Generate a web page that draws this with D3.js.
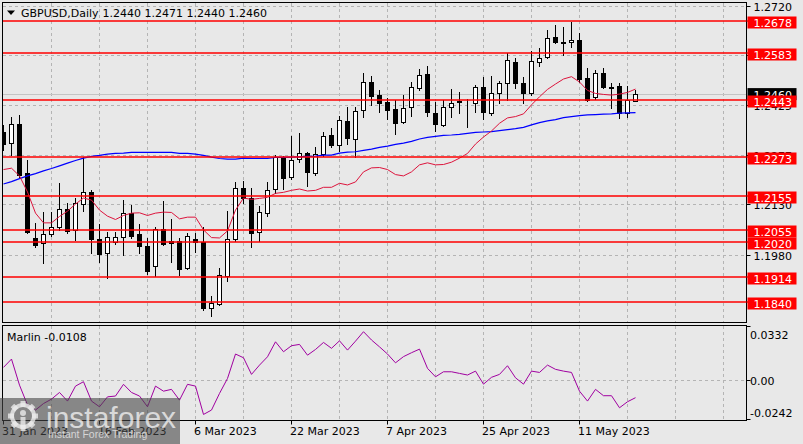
<!DOCTYPE html>
<html><head><meta charset="utf-8">
<script src="https://cdn.jsdelivr.net/npm/d3@7"></script>
<style>html,body{margin:0;padding:0;background:#e8e8e8;} svg{display:block;}</style>
</head><body><div id="chart"></div>
<script>
// ---------- DATA ----------
const symbolTitle = "GBPUSD,Daily";
const lastOHLC = "1.2440 1.2471 1.2440 1.2460";
const firstDate = "2023-01-31"; // first trading day shown; daily bars, weekends skipped
const openP  = [1.2347,1.2314,1.2371,1.2225,1.2031,1.2015,1.2042,1.2065,1.2116,1.2055,
                1.2131,1.2167,1.2027,1.1985,1.2020,1.2033,1.2106,1.2042,1.2007,1.1948,
                1.2057,1.2023,1.2023,1.1941,1.2027,1.2018,1.1821,1.1834,1.1918,1.2027,
                1.2179,1.2151,1.2048,1.2105,1.2176,1.2269,1.2214,1.2265,1.2283,1.2226,
                1.2280,1.2338,1.2308,1.2380,1.2325,1.2412,1.2496,1.2456,1.2436,1.2415,
                1.2378,1.2421,1.2477,1.2520,1.2403,1.2368,1.2421,1.2440,1.2437,1.2433,
                1.2480,1.2403,1.2462,1.2492,1.2556,1.2493,1.2462,1.2557,1.2570,1.2629,
                1.2614,1.2614,1.2621,1.2507,1.2452,1.2522,1.2480,1.2484,1.2403,1.2440];
const highP  = [1.2368,1.2392,1.2398,1.2263,1.2076,1.2109,1.2109,1.2194,1.2136,1.2149,
                1.2272,1.2174,1.2073,1.2050,1.2050,1.2144,1.2129,1.2073,1.2032,1.2063,
                1.2141,1.2088,1.2032,1.2045,1.2045,1.2064,1.1858,1.1940,1.2111,1.2199,
                1.2201,1.2181,1.2126,1.2197,1.2278,1.2274,1.2335,1.2343,1.2288,1.2303,
                1.2348,1.2360,1.2395,1.2422,1.2422,1.2524,1.2515,1.2471,1.2449,1.2442,
                1.2457,1.2497,1.2535,1.2544,1.2437,1.2442,1.2474,1.2467,1.2445,1.2487,
                1.2512,1.2514,1.2500,1.2582,1.2567,1.2510,1.2589,1.2597,1.2651,1.2666,
                1.2661,1.2676,1.2641,1.2537,1.2532,1.2537,1.2492,1.2492,1.2484,1.2471];
const lowP   = [1.2293,1.2278,1.2213,1.2046,1.2004,1.1957,1.2037,1.2055,1.2045,1.2025,
                1.2111,1.1987,1.1960,1.1912,1.2012,1.1980,1.2032,1.1987,1.1923,1.1917,
                1.2010,1.1960,1.1920,1.1937,1.1990,1.1816,1.1797,1.1831,1.1904,1.2022,
                1.2135,1.2005,1.2023,1.2097,1.2164,1.2176,1.2206,1.2258,1.2187,1.2219,
                1.2275,1.2301,1.2291,1.2311,1.2273,1.2393,1.2428,1.2407,1.2385,1.2341,
                1.2375,1.2395,1.2472,1.2395,1.2351,1.2365,1.2391,1.2403,1.2363,1.2407,
                1.2385,1.2398,1.2433,1.2442,1.2477,1.2433,1.2457,1.2545,1.2567,1.2612,
                1.2577,1.2600,1.2497,1.2440,1.2445,1.2477,1.2418,1.2388,1.2391,1.2440];
const closeP = [1.2311,1.2371,1.2219,1.2050,1.2010,1.2043,1.2065,1.2116,1.2052,1.2134,
                1.2167,1.2027,1.1982,1.2035,1.2035,1.2105,1.2037,1.2008,1.1933,1.2057,
                1.2013,1.2015,1.1938,1.2038,1.2020,1.1821,1.1838,1.1920,1.2027,1.2179,
                1.2151,1.2047,1.2108,1.2173,1.2271,1.2210,1.2263,1.2283,1.2229,1.2280,
                1.2336,1.2308,1.2383,1.2328,1.2411,1.2495,1.2455,1.2433,1.2412,1.2375,
                1.2418,1.2480,1.2516,1.2407,1.2370,1.2421,1.2433,1.2436,1.2436,1.2480,
                1.2406,1.2464,1.2492,1.2562,1.2492,1.2462,1.2559,1.2567,1.2626,1.2614,
                1.2613,1.2621,1.2505,1.2443,1.2522,1.2480,1.2479,1.2403,1.2442,1.2460];
const maSlow = [1.2192,1.2199,1.2208,1.2216,1.2223,1.2231,1.2238,1.2246,1.2254,1.2262,
                1.2269,1.2274,1.2277,1.2281,1.2283,1.2284,1.2286,1.2286,1.2286,1.2286,
                1.2286,1.2286,1.2283,1.2283,1.2281,1.2277,1.2272,1.2268,1.2266,1.2266,
                1.2269,1.2268,1.2268,1.2268,1.2271,1.2271,1.2272,1.2273,1.2274,1.2275,
                1.2278,1.2278,1.2284,1.2287,1.2288,1.2292,1.2296,1.2301,1.2305,1.2310,
                1.2314,1.2319,1.2326,1.2331,1.2334,1.2337,1.2338,1.2340,1.2343,1.2346,
                1.2347,1.2348,1.2351,1.2354,1.2357,1.2361,1.2368,1.2375,1.2380,1.2384,
                1.2390,1.2393,1.2396,1.2398,1.2399,1.2400,1.2401,1.2403,1.2404,1.2405];
const maFast = [1.2235,1.2239,1.2216,1.2168,1.2105,1.2076,1.2076,1.2095,1.2111,1.2132,
                1.2150,1.2144,1.2114,1.2096,1.2086,1.2098,1.2105,1.2106,1.2098,1.2105,
                1.2108,1.2107,1.2088,1.2093,1.2093,1.2055,1.2032,1.2031,1.2052,1.2114,
                1.2150,1.2146,1.2149,1.2152,1.2164,1.2167,1.2173,1.2177,1.2171,1.2173,
                1.2182,1.2182,1.2194,1.2189,1.2198,1.2228,1.2240,1.2241,1.2235,1.2220,
                1.2216,1.2228,1.2249,1.2255,1.2249,1.2250,1.2257,1.2269,1.2283,1.2311,
                1.2332,1.2350,1.2373,1.2389,1.2393,1.2401,1.2428,1.2452,1.2474,1.2490,
                1.2505,1.2512,1.2496,1.2471,1.2462,1.2459,1.2457,1.2460,1.2465,1.2475];
const marlin = [0.0078,0.0129,-0.0031,-0.0153,-0.0184,-0.0144,-0.0117,-0.0076,-0.0129,-0.0037,
                -0.0010,-0.0129,-0.0164,-0.0103,-0.0098,-0.0026,-0.0076,-0.0098,-0.0164,-0.0037,
                -0.0068,-0.0057,-0.0123,-0.0026,-0.0037,-0.0211,-0.0184,-0.0082,0.0010,0.0160,
                0.0137,0.0035,0.0092,0.0143,0.0235,0.0174,0.0211,0.0219,0.0153,0.0188,
                0.0231,0.0195,0.0241,0.0184,0.0239,0.0297,0.0246,0.0204,0.0160,0.0106,
                0.0144,0.0168,0.0190,0.0072,0.0020,0.0051,0.0051,0.0041,0.0031,0.0055,
                -0.0025,0.0017,0.0035,0.0088,0.0014,-0.0025,0.0055,0.0047,0.0092,0.0066,
                0.0055,0.0047,-0.0068,-0.0129,-0.0057,-0.0096,-0.0096,-0.0170,-0.0133,-0.0108];
const levels = [1.2678,1.2583,1.2443,1.2273,1.2155,1.2055,1.2020,1.1914,1.1840];
const priceTicks = [1.2720,1.2574,1.2425,1.2277,1.2130,1.1980];
const marlinTicks = [0.0332,0.00,-0.0242];
const marlinTickText = ["0.0332","0.00","-0.0242"];
const lastPrice = 1.2460;
const marlinLabel = "Marlin -0.0108";

// ---------- CHART ----------
const W = 803, H = 444;
const font = "'DejaVu Sans', Tahoma, sans-serif";
const svg = d3.select("#chart").append("svg").attr("width", W).attr("height", H)
  .style("font-family", font);
svg.append("rect").attr("width", W).attr("height", H).attr("fill", "#e8e8e8");

// trading dates (category axis)
const parse = d3.timeParse("%Y-%m-%d");
const dates = [];
for (let d = parse(firstDate); dates.length < closeP.length; d = d3.timeDay.offset(d, 1)) {
  const wd = d.getDay(); if (wd !== 0 && wd !== 6) dates.push(d);
}
const fmt = d3.timeFormat("%-d %b %Y");

const L = 2.5, R = 746.5, T = 2.5, B = 322.5, ST = 325.5, SB = 420.5;
const x = d3.scaleLinear().domain([0, 1]).range([3.5, 11.5]);
const y = d3.scaleLinear().domain([1.17803, 1.27317]).range([322, 3]);
const ym = d3.scaleLinear().domain([-0.0242, 0.0332]).range([419.5, 326]);
const crisp = v => Math.floor(v) + 0.5;

const defs = svg.append("defs");
defs.append("clipPath").attr("id", "cm").append("rect").attr("x", 3).attr("y", 3).attr("width", R - 3.5).attr("height", B - 3);
defs.append("clipPath").attr("id", "cs").append("rect").attr("x", 3).attr("y", ST + 0.5).attr("width", R - 3.5).attr("height", SB - ST - 1);

const gm = svg.append("g").attr("clip-path", "url(#cm)");
const gs = svg.append("g").attr("clip-path", "url(#cs)");

// vertical grid
const gridIdx = d3.range(6, 100, 6).filter(i => x(i) < R);
[gm, gs].forEach((g, k) => {
  g.selectAll(null).data(gridIdx).join("line")
    .attr("x1", i => crisp(x(i) - 0.5)).attr("x2", i => crisp(x(i) - 0.5))
    .attr("y1", k ? ST : T).attr("y2", k ? SB : B)
    .attr("stroke", "#b4b4b4").attr("stroke-dasharray", "3,3").attr("shape-rendering", "crispEdges");
});
// horizontal grid main
gm.selectAll(null).data(priceTicks).join("line")
  .attr("x1", L).attr("x2", R).attr("y1", d => crisp(y(d))).attr("y2", d => crisp(y(d)))
  .attr("stroke", "#b4b4b4").attr("stroke-dasharray", "3,3").attr("shape-rendering", "crispEdges");
// zero line sub
gs.append("line").attr("x1", L).attr("x2", R).attr("y1", crisp(ym(0))).attr("y2", crisp(ym(0)))
  .attr("stroke", "#b4b4b4").attr("stroke-dasharray", "3,3").attr("shape-rendering", "crispEdges");

// last price line
gm.append("line").attr("x1", L).attr("x2", R).attr("y1", crisp(y(lastPrice))).attr("y2", crisp(y(lastPrice)))
  .attr("stroke", "#c4c4c4").attr("shape-rendering", "crispEdges");

// candles
const idx = d3.range(closeP.length);
gm.selectAll(null).data(idx).join("line")
  .attr("x1", i => x(i)).attr("x2", i => x(i))
  .attr("y1", i => Math.round(y(highP[i]))).attr("y2", i => Math.round(y(lowP[i])) + 1)
  .attr("stroke", "#000").attr("shape-rendering", "crispEdges");
gm.selectAll(null).data(idx).join("rect")
  .attr("x", i => x(i) - 2).attr("width", 4)
  .attr("y", i => Math.round(y(Math.max(openP[i], closeP[i]))) + 0.5)
  .attr("height", i => Math.max(0, Math.round(y(Math.min(openP[i], closeP[i]))) - Math.round(y(Math.max(openP[i], closeP[i])))))
  .attr("fill", i => closeP[i] >= openP[i] ? "#fff" : "#000")
  .attr("stroke", "#000").attr("shape-rendering", "crispEdges");

// moving averages
const lineM = arr => d3.line().x((d, i) => x(i)).y(d => y(d))(arr);
gm.append("path").attr("d", lineM(maSlow)).attr("fill", "none").attr("stroke", "#0000ff").attr("stroke-width", 1.2);
gm.append("path").attr("d", lineM(maFast)).attr("fill", "none").attr("stroke", "#dc143c").attr("stroke-width", 1);

// horizontal levels
gm.selectAll(null).data(levels).join("line")
  .attr("x1", L).attr("x2", R).attr("y1", d => Math.round(y(d))).attr("y2", d => Math.round(y(d)))
  .attr("stroke", "#ff0000").attr("stroke-width", 1.6);

// marlin
gs.append("path").attr("d", d3.line().x((d, i) => x(i)).y(d => ym(d))(marlin))
  .attr("fill", "none").attr("stroke", "#a000a0").attr("stroke-width", 1);

// frames
const frame = svg.append("g").attr("fill", "none").attr("stroke", "#000").attr("shape-rendering", "crispEdges");
frame.append("rect").attr("x", L).attr("y", T).attr("width", R - L).attr("height", B - T);
frame.append("rect").attr("x", L).attr("y", ST).attr("width", R - L).attr("height", SB - ST);

// price axis ticks/labels
svg.selectAll(null).data(priceTicks).join("line")
  .attr("x1", R).attr("x2", R + 4).attr("y1", d => crisp(y(d))).attr("y2", d => crisp(y(d))).attr("stroke", "#000");
svg.selectAll(null).data(priceTicks).join("text")
  .attr("x", 753.5).attr("y", d => y(d) + 4.5).attr("font-size", 11).attr("fill", "#000")
  .text(d => d.toFixed(4));

// last price box (black)
const boxW = 49;
svg.append("rect").attr("x", 747.5).attr("y", y(lastPrice) - 6).attr("width", boxW).attr("height", 12).attr("fill", "#000");
svg.append("text").attr("x", 753.5).attr("y", y(lastPrice) + 4.5).attr("font-size", 11).attr("fill", "#fff").text(lastPrice.toFixed(4));

// level boxes
const lv = svg.append("g");
levels.forEach(v => {
  const yy = Math.round(y(v));
  lv.append("line").attr("x1", R).attr("x2", 748).attr("y1", yy).attr("y2", yy).attr("stroke", "#ff0000").attr("stroke-width", 1.6);
  lv.append("rect").attr("x", 747.5).attr("y", yy - 4.5).attr("width", boxW).attr("height", 12).attr("fill", "#ff0000");
  lv.append("text").attr("x", 753.5).attr("y", yy + 5.5).attr("font-size", 11).attr("fill", "#fff").text(v.toFixed(4));
});

// marlin axis
svg.selectAll(null).data(marlinTicks).join("line")
  .attr("x1", R).attr("x2", R + 4).attr("y1", d => crisp(ym(d))).attr("y2", d => crisp(ym(d))).attr("stroke", "#000");
svg.selectAll(null).data(marlinTicks).join("text")
  .attr("x", 750).attr("y", (d, i) => i === 0 ? ym(d) + 12.5 : i === 2 ? ym(d) - 3 : ym(d) + 4.5)
  .attr("font-size", 11).attr("fill", "#000").text((d, i) => marlinTickText[i]);

// time axis
const labIdx = d3.range(0, closeP.length, 12);
svg.selectAll(null).data(labIdx).join("line")
  .attr("x1", i => crisp(x(i) - 0.5)).attr("x2", i => crisp(x(i) - 0.5)).attr("y1", SB).attr("y2", SB + 4).attr("stroke", "#000");
svg.selectAll(null).data(labIdx).join("text")
  .attr("x", i => x(i) - 1.5).attr("y", 435).attr("font-size", 11).attr("fill", "#000")
  .text(i => fmt(dates[i]));

// title
svg.append("path").attr("d", "M7,10.5 L15,10.5 L11,15 Z").attr("fill", "#000");
svg.append("text").attr("x", 21).attr("y", 17).attr("font-size", 11).attr("fill", "#000").text(symbolTitle);
svg.append("text").attr("x", 102.5).attr("y", 17).attr("font-size", 11).attr("fill", "#000").text(lastOHLC);
svg.append("text").attr("x", 7).attr("y", 341).attr("font-size", 11).attr("fill", "#000").text(marlinLabel);

// watermark
const wm = svg.append("g");
wm.append("rect").attr("x", 0).attr("y", 398).attr("width", 180).attr("height", 46).attr("fill", "rgba(70,70,70,0.6)");
const gear = wm.append("g").attr("transform", "translate(23,416)").attr("fill", "rgba(235,235,235,0.8)");
d3.range(8).forEach(k => {
  gear.append("rect").attr("x", -2.5).attr("y", -15).attr("width", 5).attr("height", 6)
    .attr("transform", `rotate(${k * 45})`);
});
gear.append("circle").attr("r", 11).attr("fill", "none").attr("stroke", "rgba(235,235,235,0.8)").attr("stroke-width", 4);
gear.append("circle").attr("cy", -3).attr("r", 3);
gear.append("rect").attr("x", -2.5).attr("y", 1).attr("width", 5).attr("height", 12);
wm.append("text").attr("x", 46).attr("y", 428).attr("font-family", "'Liberation Sans', Arial, sans-serif")
  .attr("font-size", 30).attr("fill", "rgba(240,240,240,0.8)").text("instaforex");
wm.append("text").attr("x", 48).attr("y", 438).attr("font-family", "'Liberation Sans', Arial, sans-serif")
  .attr("font-size", 10.5).attr("fill", "rgba(240,240,240,0.75)").text("Instant Forex Trading");
</script>
</body></html>
